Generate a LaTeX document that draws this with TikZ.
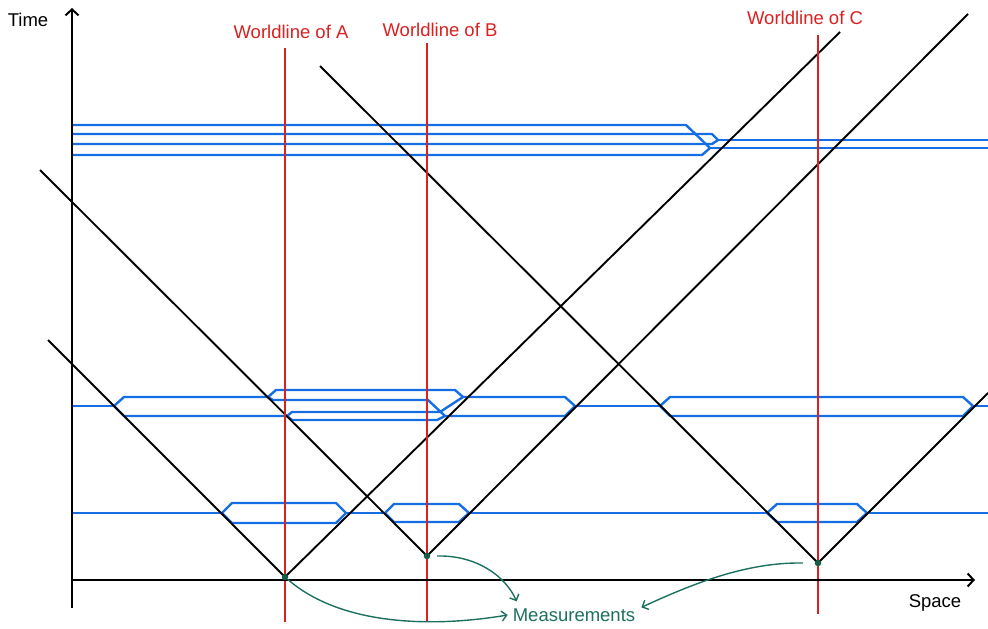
\documentclass[tikz,border=0pt]{standalone}
\usepackage{fontspec}
\setmainfont{Liberation Sans}
\usetikzlibrary{arrows.meta}
\definecolor{wlred}{RGB}{218,32,32}
\definecolor{branchblue}{RGB}{22,110,228}
\definecolor{meteal}{RGB}{28,112,96}
\definecolor{dotgreen}{RGB}{22,92,70}
\begin{document}
\begin{tikzpicture}[x=1pt,y=-1pt,
  axis/.style={line width=2pt, -{Straight Barb[length=6pt,width=13pt]}},
  ray/.style={line width=1.9pt, black},
  worldline/.style={line width=2.3pt, wlred},
  branch/.style={line width=2.4pt, branchblue, line join=round, line cap=round},
  lbl/.style={font=\fontsize{18.5}{20}\selectfont, inner sep=0pt},
  dot/.style={circle, fill=dotgreen, inner sep=0pt, minimum size=6.5pt},
  measarrow/.style={line width=1.4pt, meteal, -{Straight Barb[length=5pt,width=10pt]}}]
\useasboundingbox (0,0) rectangle (988,629);

% ---------- blue branches (top) ----------
\draw[branch] (72,125) -- (686,125) -- (710,148);
\draw[branch] (72,134) -- (712,134) -- (718,140);
\draw[branch] (72,144) -- (712,144) -- (718,140);
\draw[branch] (72,155) -- (702,155) -- (710,148);
\draw[branch] (718,140) -- (988,140);
\draw[branch] (710,148) -- (988,148);

% ---------- blue branches (middle) ----------
\draw[branch] (72,406) -- (114,406);
\draw[branch] (114,406) -- (124,397) -- (268,397);
\draw[branch] (114,406) -- (124,416) -- (287,416);
\draw[branch] (268,397) -- (276,390) -- (455,390) -- (463,397);
\draw[branch] (268,397) -- (273,400) -- (428,400) -- (445,416);
\draw[branch] (287,416) -- (292,412) -- (440,412) -- (463,397);
\draw[branch] (287,416) -- (292,420) -- (437,420) -- (445,416);
\draw[branch] (463,397) -- (565,397) -- (575,406);
\draw[branch] (445,416) -- (565,416) -- (575,406);
\draw[branch] (575,406) -- (660,406);
\draw[branch] (660,406) -- (670,397) -- (963,397) -- (973,406) -- (963,416) -- (670,416) -- cycle;
\draw[branch] (973,406) -- (988,406);

% ---------- blue branches (bottom) ----------
\draw[branch] (72,513) -- (222,513);
\draw[branch] (222,513) -- (232,503) -- (336,503) -- (346,513) -- (336,523) -- (232,523) -- cycle;
\draw[branch] (346,513) -- (385,513);
\draw[branch] (385,513) -- (394,504) -- (459,504) -- (469,513) -- (459,522) -- (394,522) -- cycle;
\draw[branch] (469,513) -- (767,513);
\draw[branch] (767,513) -- (777,504) -- (857,504) -- (867,513) -- (857,522) -- (777,522) -- cycle;
\draw[branch] (867,513) -- (988,513);

% ---------- apex points ----------
\coordinate (pA) at (285,577);
\coordinate (pB) at (427,556);
\coordinate (pC) at (818,563);

% ---------- light rays ----------
\coordinate (eAl) at (48,340);
\coordinate (eAr) at (840,32);
\coordinate (eBl) at (40,170);
\coordinate (eBr) at (968,14);
\coordinate (eCl) at (320,66);
\coordinate (eCr) at (988,393);
\draw[ray] (eAl) -- (pA) -- (eAr);
\draw[ray] (eBl) -- (pB) -- (eBr);
\draw[ray] (eCl) -- (pC) -- (eCr);

% ---------- worldlines ----------
\coordinate (wAt) at (285,48);  \coordinate (wAb) at (285,622);
\coordinate (wBt) at (427,43);  \coordinate (wBb) at (427,622);
\coordinate (wCt) at (818,35);  \coordinate (wCb) at (818,614);
\draw[worldline] (wAt) -- (wAb);
\draw[worldline] (wBt) -- (wBb);
\draw[worldline] (wCt) -- (wCb);

% ---------- axes ----------
\coordinate (o) at (72,580);
\coordinate (ybot) at (72,608);
\coordinate (ytop) at (72,8);
\coordinate (xend) at (975,580);
\draw[axis] (ybot) -- (ytop);
\draw[axis] (o) -- (xend);

% ---------- dots ----------
\node[dot] (dA) at (pA) {};
\node[dot] (dB) at (pB) {};
\node[dot] (dC) at (pC) {};

% ---------- labels ----------
\node[lbl, text=wlred] (labA) at (291,32) {Worldline of A};
\node[lbl, text=wlred] (labB) at (440,30) {Worldline of B};
\node[lbl, text=wlred] (labC) at (805,18) {Worldline of C};
\node[lbl] (time) at (28,20) {Time};
\node[lbl] (space) at (935,603) {Space};
\node[lbl, text=meteal] (meas) at (574,615) {Measurements};

% ---------- measurement arrows ----------
\draw[measarrow] (dA) .. controls (340,625) and (430,628) .. ([xshift=-5pt]meas.west);
\draw[measarrow] ([xshift=10pt]dB.center) .. controls (475,555) and (505,575) .. ([shift={(4pt,7pt)}]meas.north west);
\draw[measarrow] ([xshift=-15pt]dC.center) .. controls (745,562) and (690,585) .. ([shift={(6pt,1pt)}]meas.north east);
\end{tikzpicture}
\end{document}
